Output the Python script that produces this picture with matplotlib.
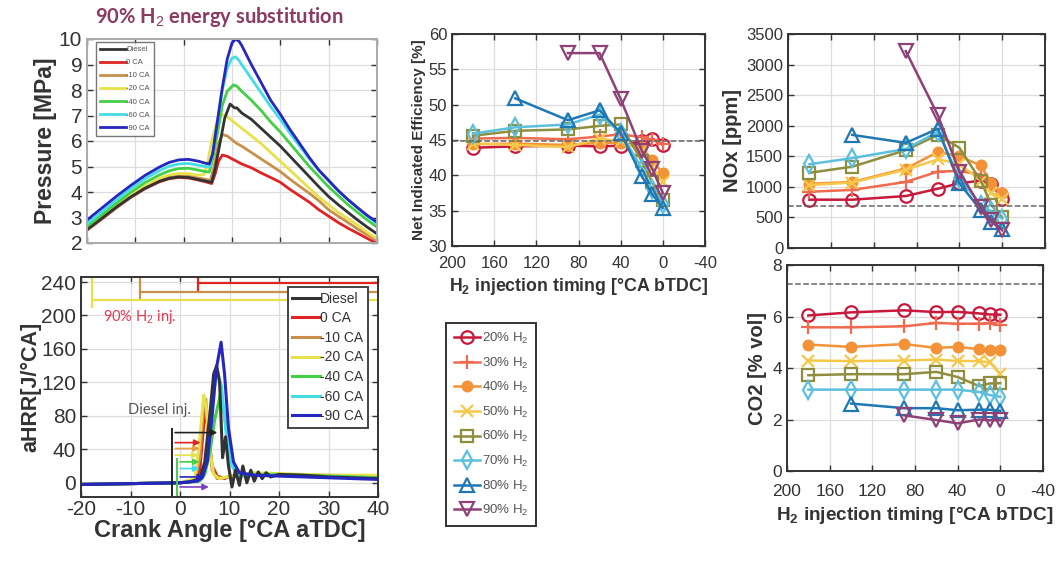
import matplotlib
matplotlib.use("Agg")
import matplotlib.pyplot as plt
import numpy as np

# === Data ===
# Pressure traces, 90% H2 energy substitution  (crank angle [°CA aTDC], pressure [MPa])
ca_comp = [-20, -17, -14, -11, -8, -5, -3, -1, 1, 3]
ca_exp = [12, 14, 16, 18, 20, 22, 24, 26, 28, 30, 32, 34, 36, 38, 40]

p_diesel_ca = ca_comp + [4.5, 5.8, 6.5, 7.5, 8.5, 9.6, 10.5, 11] + ca_exp
p_diesel = [2.53, 2.96, 3.4, 3.8, 4.15, 4.42, 4.54, 4.59, 4.57, 4.49,
            4.43, 4.38, 4.9, 5.9, 6.9, 7.45, 7.3, 7.3,
            7.1, 6.85, 6.5, 6.15, 5.8, 5.4, 5.0, 4.6, 4.2, 3.82, 3.5, 3.2, 2.9, 2.62, 2.36]
p_0_ca = ca_comp + [4.5, 5.8, 6.5, 7.2, 8, 9, 10, 11] + ca_exp
p_0 = [2.5, 2.93, 3.37, 3.78, 4.13, 4.4, 4.52, 4.57, 4.55, 4.47,
       4.4, 4.33, 4.7, 5.2, 5.45, 5.4, 5.3, 5.2,
       5.1, 4.95, 4.75, 4.57, 4.38, 4.1, 3.85, 3.6, 3.3, 3.05, 2.8, 2.58, 2.38, 2.18, 1.98]
p_10_ca = ca_comp + [4.5, 5.5, 6.3, 7.2, 8, 9, 10, 11] + ca_exp
p_10 = [2.52, 2.96, 3.4, 3.81, 4.17, 4.45, 4.58, 4.63, 4.62, 4.55,
        4.5, 4.45, 5.0, 5.9, 6.25, 6.2, 6.05, 5.9,
        5.8, 5.55, 5.3, 5.05, 4.8, 4.5, 4.22, 3.95, 3.65, 3.3, 3.05, 2.8, 2.55, 2.32, 2.1]
p_20_ca = ca_comp + [4.2, 5, 5.8, 6.8, 7.8, 9, 10, 11] + ca_exp
p_20 = [2.55, 3.0, 3.45, 3.87, 4.24, 4.53, 4.67, 4.73, 4.72, 4.66,
        4.68, 5.2, 6.0, 6.7, 7.05, 6.95, 6.8, 6.65,
        6.5, 6.2, 5.9, 5.55, 5.2, 4.85, 4.5, 4.15, 3.8, 3.5, 3.2, 2.95, 2.7, 2.42, 2.17]
p_40_ca = ca_comp + [4.5, 5.3, 6, 7, 8, 9, 10.3, 11] + ca_exp
p_40 = [2.65, 3.1, 3.55, 3.98, 4.37, 4.67, 4.83, 4.92, 4.93, 4.86,
        4.8, 4.78, 5.3, 6.3, 7.4, 7.95, 8.2, 8.15,
        7.95, 7.6, 7.2, 6.75, 6.35, 5.9, 5.45, 5.0, 4.6, 4.2, 3.85, 3.5, 3.2, 2.9, 2.62]
p_60_ca = ca_comp + [4.5, 5.3, 6, 7, 8, 9, 10, 10.7, 11.3] + ca_exp
p_60 = [2.75, 3.22, 3.68, 4.12, 4.52, 4.84, 5.01, 5.1, 5.12, 5.05,
        5.0, 4.97, 5.5, 6.8, 8.0, 8.85, 9.25, 9.3, 9.2,
        9.0, 8.45, 7.9, 7.35, 6.85, 6.3, 5.8, 5.3, 4.85, 4.45, 4.05, 3.7, 3.38, 3.05, 2.75]
p_90_ca = ca_comp + [4.5, 5.3, 6, 7, 8, 9, 10, 10.8, 11.5] + ca_exp
p_90 = [2.9, 3.36, 3.82, 4.25, 4.65, 4.98, 5.16, 5.26, 5.28, 5.21,
        5.13, 5.1, 5.5, 6.8, 8.1, 9.2, 9.85, 10.0, 9.9,
        9.75, 9.0, 8.3, 7.6, 7.05, 6.45, 5.9, 5.35, 4.85, 4.45, 4.05, 3.7, 3.38, 3.08, 2.82]

# Apparent heat release rate [J/°CA]
q_diesel_ca = [-20, -10, 0, 2, 4, 5, 6, 6.8, 7.4, 8, 8.6, 9.2, 9.8, 10.5, 11.2, 12, 12.7, 13.5, 14.3, 15, 15.8, 16.6, 17.4, 18.3, 20, 25, 30, 35, 40]
q_diesel = [-2, -1, 0, 1, 5, 25, 80, 130, 140, 120, 30, 55, 20, -5, 15, -3, 20, 0, 15, 2, 13, 5, 12, 7, 10, 9, 7, 6, 5]
q_0_ca = [-20, 0, 3, 4, 4.8, 5.2, 5.7, 6.5, 7.5, 9, 10, 15, 20, 30, 40]
q_0 = [-2, 0, 2, 15, 70, 90, 60, 20, 8, 5, 8, 10, 10, 7, 6]
q_10_ca = [-20, 0, 3, 4, 4.8, 5.2, 5.8, 6.5, 7.5, 9, 12, 20, 30, 40]
q_10 = [-2, 0, 3, 30, 95, 100, 55, 15, 5, 6, 10, 10, 9, 8]
q_20_ca = [-20, 0, 3, 3.8, 4.8, 5.3, 6, 6.8, 8, 10, 15, 20, 30, 40]
q_20 = [-2, 0, 5, 40, 105, 90, 40, 10, 5, 8, 12, 11, 9, 9]
q_40_ca = [-20, 0, 4, 5, 6, 7, 8.2, 9, 10, 11, 12, 15, 20, 30, 40]
q_40 = [-2, 0, 2, 10, 35, 75, 107, 80, 35, 15, 8, 10, 10, 8, 6]
q_60_ca = [-20, 0, 4, 5, 6, 7, 7.6, 8.4, 9.3, 10.5, 12, 15, 20, 30, 40]
q_60 = [-2, 0, 3, 15, 60, 115, 133, 115, 60, 20, 8, 9, 9, 7, 5]
q_90_ca = [-20, 0, 3.5, 4.5, 5.5, 6.5, 7.3, 8.3, 9.0, 9.8, 10.8, 12, 15, 20, 30, 40]
q_90 = [-2, 0, 2, 6, 25, 80, 135, 168, 130, 65, 25, 12, 9, 8, 6, 4]

# H2 injection windows (start angle, level) for 0, -10, -20 CA
h2_inj_start = [3.7, -8.1, -17.8]
h2_inj_level = [239, 228, 218]
# Diesel injection arrows: start, end, level
dsl_start = [-1.55, -1.55, -1.55, -1.55, -0.55, -0.55, -0.55, -0.55]
dsl_end = [8.1, 4.7, 4.5, 4.3, 4.5, 4.5, 5.4, 6.4]
dsl_level = [60, 48, 41, 33, 25, 17, 7, -5]

case_labels = ["Diesel", "0 CA", "-10 CA", "-20 CA", "-40 CA", "-60 CA", "-90 CA"]

# Engine-out results vs H2 injection timing [°CA bTDC]
timing_full = [180, 140, 90, 60, 40, 20, 10, 0]
timing_80 = [140, 90, 60, 40, 20, 10, 0]
timing_90 = [90, 60, 40, 20, 10, 0]
h2_labels = ["20% H$_2$", "30% H$_2$", "40% H$_2$", "50% H$_2$",
             "60% H$_2$", "70% H$_2$", "80% H$_2$", "90% H$_2$"]

eff_20 = [43.9, 44.1, 44.2, 44.1, 44.2, 44.8, 45.2, 44.3]
eff_30 = [45.2, 45.3, 45.1, 45.5, 45.8, 45.4, 45.0, 44.5]
eff_40 = [44.4, 44.5, 44.3, 44.6, 44.6, 44.0, 42.1, 40.3]
eff_50 = [44.5, 44.3, 44.0, 45.2, 44.8, 43.5, 41.0, 39.0]
eff_60 = [45.6, 46.3, 46.5, 47.0, 47.2, 42.0, 39.0, 36.5]
eff_70 = [45.9, 46.8, 47.2, 48.6, 46.0, 41.0, 38.0, 36.0]
eff_80 = [50.9, 47.8, 49.2, 46.0, 39.9, 37.3, 35.4]
eff_90 = [57.3, 57.3, 50.8, 43.5, 40.9, 37.5]
eff_diesel = 44.8

nox_20 = [790, 790, 850, 970, 1060, 1100, 1050, 800]
nox_30 = [920, 950, 1080, 1250, 1260, 1200, 1000, 880]
nox_40 = [1050, 1080, 1300, 1570, 1500, 1350, 1060, 900]
nox_50 = [1030, 1070, 1280, 1450, 1380, 1100, 900, 800]
nox_60 = [1230, 1330, 1600, 1850, 1640, 1100, 700, 500]
nox_70 = [1370, 1470, 1620, 1900, 1150, 700, 600, 480]
nox_80 = [1850, 1720, 1950, 1060, 620, 420, 315]
nox_90 = [3220, 2170, 1250, 670, 450, 290]
nox_diesel = 690

co2_20 = [6.04, 6.16, 6.24, 6.17, 6.18, 6.12, 6.08, 6.07]
co2_30 = [5.58, 5.58, 5.62, 5.75, 5.72, 5.72, 5.73, 5.66]
co2_40 = [4.91, 4.82, 4.93, 4.78, 4.82, 4.73, 4.68, 4.68]
co2_50 = [4.29, 4.27, 4.29, 4.33, 4.27, 4.27, 4.22, 3.78]
co2_60 = [3.72, 3.76, 3.76, 3.85, 3.65, 3.30, 3.40, 3.41]
co2_70 = [3.16, 3.16, 3.16, 3.16, 3.16, 3.07, 2.95, 2.88]
co2_80 = [2.62, 2.44, 2.44, 2.36, 2.38, 2.38, 2.34]
co2_90 = [2.16, 1.98, 1.85, 2.0, 1.97, 1.97]
co2_diesel = 7.25

# === Styles ===
plt.rcParams['font.family'] = ['Liberation Sans', 'DejaVu Sans']
plt.rcParams['axes.unicode_minus'] = False
plt.rcParams['mathtext.fontset'] = 'custom'
plt.rcParams['mathtext.rm'] = 'Liberation Sans'
plt.rcParams['mathtext.it'] = 'Liberation Sans:italic'
plt.rcParams['mathtext.bf'] = 'Liberation Sans:bold'

case_colors = ['#333333', '#E02424', '#C8904A', '#E8E24A', '#44D044', '#44DDE6', '#2626C0']
h2_colors = ['#C8193C', '#F06A50', '#F39237', '#F5C84A', '#8F8E3E', '#5BC0DE', '#1F78B4', '#8E4177']
h2_markers = ['o', '+', 'o', 'x', 's', 'd', '^', 'v']
h2_filled = [False, False, True, False, False, False, False, False]
h2_msize = [9, 10, 7, 8, 8, 9, 10, 10]

W, H = 1056, 569
fig = plt.figure(figsize=(W / 100, H / 100), dpi=100)


def px_axes(l, t, r, b):
    return fig.add_axes([l / W, 1 - b / H, (r - l) / W, (b - t) / H])


def style(ax, size, frame='#333333', xpad=3.5):
    ax.grid(True, color='#DDDDDD', lw=0.9)
    ax.set_axisbelow(True)
    ax.tick_params(direction='in', top=True, right=True, labelsize=size,
                   colors='#333333', length=4, width=1)
    ax.tick_params(axis='x', pad=xpad)
    for s in ax.spines.values():
        s.set_color(frame)
        s.set_linewidth(1.4)


# --- Pressure ---
axp = px_axes(87, 39, 377, 243)
p_ca = [p_diesel_ca, p_0_ca, p_10_ca, p_20_ca, p_40_ca, p_60_ca, p_90_ca]
p_val = [p_diesel, p_0, p_10, p_20, p_40, p_60, p_90]
lines = {}
for i in [1, 2, 3, 0, 4, 5, 6]:
    lines[i], = axp.plot(p_ca[i], p_val[i], color=case_colors[i], lw=2)
axp.set_xlim(-20, 40)
axp.set_ylim(2, 10)
axp.set_xticks(np.arange(-20, 41, 10))
axp.set_xticklabels([])
axp.set_yticks(np.arange(2, 11, 1))
style(axp, 15, frame='#AAAAAA')
axp.set_ylabel("Pressure [MPa]", fontsize=16.5, fontweight='bold', color='#333333', labelpad=1)
leg = axp.legend([lines[i] for i in range(7)], case_labels, loc='upper left',
                 bbox_to_anchor=(0.03, 0.985), fontsize=5.5, handlelength=3.5,
                 handletextpad=0.0, labelspacing=0.75, frameon=True, fancybox=False,
                 borderpad=0.5, borderaxespad=0)
leg.get_frame().set_edgecolor('#555555')
for t in leg.get_texts():
    t.set_color('#555555')
fig.text(95 / W, 1 - 17 / H, "90% H$_2$ energy substitution", fontsize=14.5,
         fontweight='bold', color='#8B3A62', family='Lato', va='center')

# --- aHRR ---
axq = px_axes(81, 277, 378, 497)
q_ca = [q_diesel_ca, q_0_ca, q_10_ca, q_20_ca, q_40_ca, q_60_ca, q_90_ca]
q_val = [q_diesel, q_0, q_10, q_20, q_40, q_60, q_90]
qlines = {}
for i in [1, 2, 3, 4, 5, 0, 6]:
    qlines[i], = axq.plot(q_ca[i], q_val[i], color=case_colors[i], lw=2.2)
axq.set_xlim(-20, 40)
axq.set_ylim(-17, 246)
axq.set_xticks(np.arange(-20, 41, 10))
axq.set_yticks(np.arange(0, 241, 40))
style(axq, 15, xpad=2)
axq.set_ylabel("aHRR[J/°CA]", fontsize=15.5, fontweight='bold', color='#333333', labelpad=0)
axq.set_xlabel("Crank Angle [°CA aTDC]", fontsize=17, fontweight='bold', color='#333333', labelpad=0)

for s, lv, c in zip(h2_inj_start, h2_inj_level, case_colors[1:4]):
    axq.plot([s, 40], [lv, lv], color=c, lw=1.6)
    axq.plot([s, s], [lv - 8, 246], color=c, lw=1.6)
arrow_cols = ['#222222', '#E02424', '#E8A040', '#E8E24A', '#44D044', '#44DDE6', '#2626C0', '#7B3FBF']
for s, e, lv, c in zip(dsl_start, dsl_end, dsl_level, arrow_cols):
    axq.annotate("", xy=(e, lv), xytext=(s, lv),
                 arrowprops=dict(arrowstyle='-|>', color=c, lw=1.2, mutation_scale=9))
axq.plot([dsl_start[0], dsl_start[0]], [-17, dsl_level[0] + 4], color='#222222', lw=1.4)
axq.plot([dsl_start[4], dsl_start[4]], [-17, dsl_level[4] + 3], color='#44D044', lw=1.4)
axq.text(-15.5, 198, "90% H$_2$ inj.", fontsize=10.5, color='#E8384F', family='Lato', va='center')
axq.text(-10.5, 87, "Diesel inj.", fontsize=10.5, color='#555555', family='Lato', va='center')
leg2 = axq.legend([qlines[i] for i in range(7)], case_labels, loc='upper right',
                  bbox_to_anchor=(0.968, 0.955), fontsize=10, handlelength=2.0,
                  handletextpad=0.0, labelspacing=0.4, frameon=True, fancybox=False,
                  borderpad=0.35, borderaxespad=0, framealpha=1)
leg2.get_frame().set_edgecolor('#444444')
leg2.get_frame().set_linewidth(1.4)
for t in leg2.get_texts():
    t.set_color('#333333')


# --- H2 series panels ---
def series_plot(ax, series):
    xs = [timing_full] * 6 + [timing_80, timing_90]
    hs = []
    for k in range(8):
        mfc = h2_colors[k] if h2_filled[k] else 'none'
        h, = ax.plot(xs[k], series[k], color=h2_colors[k], lw=1.8, marker=h2_markers[k],
                     ms=h2_msize[k], mfc=mfc, mec=h2_colors[k], mew=1.6)
        hs.append(h)
    ax.set_xlim(200, -40)
    ax.set_xticks(np.arange(200, -41, -40))
    return hs


axe = px_axes(452, 34, 705, 246)
hs = series_plot(axe, [eff_20, eff_30, eff_40, eff_50, eff_60, eff_70, eff_80, eff_90])
axe.axhline(eff_diesel, color='#666666', ls='--', lw=1.1)
axe.set_ylim(30, 60)
axe.set_yticks(np.arange(30, 61, 5))
style(axe, 12, xpad=7)
axe.set_ylabel("Net Indicated Efficiency [%]", fontsize=11, fontweight='bold', color='#333333', labelpad=2)
axe.set_xlabel(r"H$_\mathbf{2}$ injection timing [°CA bTDC]", fontsize=12.8, fontweight='bold',
               color='#333333', labelpad=4)

axn = px_axes(788, 34, 1045, 248)
series_plot(axn, [nox_20, nox_30, nox_40, nox_50, nox_60, nox_70, nox_80, nox_90])
axn.axhline(nox_diesel, color='#666666', ls='--', lw=1.1)
axn.set_ylim(0, 3500)
axn.set_yticks(np.arange(0, 3501, 500))
axn.set_xticklabels([])
style(axn, 12)
axn.set_ylabel("NOx [ppm]", fontsize=14.5, fontweight='bold', color='#333333', labelpad=3)

axc = px_axes(787, 265, 1043, 471)
series_plot(axc, [co2_20, co2_30, co2_40, co2_50, co2_60, co2_70, co2_80, co2_90])
axc.axhline(co2_diesel, color='#666666', ls='--', lw=1.1)
axc.set_ylim(0, 8)
axc.set_yticks(np.arange(0, 9, 2))
style(axc, 12.5, xpad=9)
axc.set_ylabel("CO2 [% vol]", fontsize=14.5, fontweight='bold', color='#333333', labelpad=4)
axc.set_xlabel(r"H$_\mathbf{2}$ injection timing [°CA bTDC]", fontsize=13.7, fontweight='bold',
               color='#333333', labelpad=5)

leg3 = fig.legend(hs, h2_labels, loc='upper left', bbox_to_anchor=(446 / W, 1 - 323 / H),
                  fontsize=9.5, handlelength=2.0, handletextpad=0.1, labelspacing=0.72,
                  frameon=True, fancybox=False, borderpad=0.6, framealpha=1, borderaxespad=0)
leg3.get_frame().set_edgecolor('#333333')
leg3.get_frame().set_linewidth(1.4)
for t in leg3.get_texts():
    t.set_color('#555555')

plt.savefig("out.png", dpi=100)
plt.close()
